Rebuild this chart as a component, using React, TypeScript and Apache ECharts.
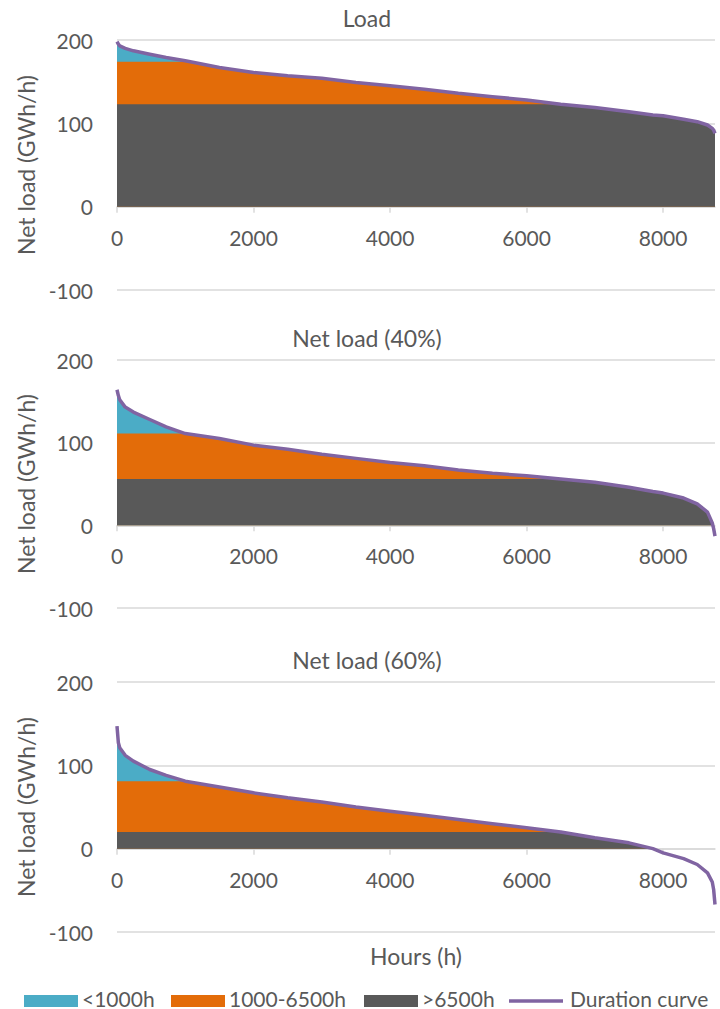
import React, { useEffect, useRef } from "react";
import * as echarts from "echarts";

// Hours of the year (sorted duration)
const hours = [0, 20, 40, 120, 240, 480, 720, 1000, 1500, 2000, 2500, 3000, 3500, 4000, 4500, 5000, 5500, 6000, 6500, 7000, 7500, 7850, 8000, 8300, 8500, 8650, 8720, 8740, 8760];

// Duration curves (GWh/h)
const loadCurve = [198, 195, 193, 190, 187, 183, 179, 175, 167, 161, 157, 154, 149, 145, 141, 136, 132, 128, 123, 119, 114, 110, 109, 105, 102, 98, 94, 92, 88];
const net40Curve = [164, 157, 152, 143, 137, 128, 119, 111, 105, 97, 92, 86, 81, 76, 72, 67, 63, 60, 56, 52, 46, 41, 39, 33, 26, 16, 3, -4, -13];
const net60Curve = [147, 127, 121, 112, 105, 95, 88, 81, 74, 67, 61, 56, 50, 45, 40, 35, 30, 25, 20, 13, 7, 0, -5, -12, -19, -29, -40, -49, -67];

// Levels at 1000 h and 6500 h for each panel
const level1000 = [174, 111, 81];
const level6500 = [123, 56, 20];

const panelTitles = ["Load", "Net load (40%)", "Net load (60%)"];
const seriesNames = ["<1000h", "1000-6500h", ">6500h", "Duration curve"];
const xTicks = [0, 2000, 4000, 6000, 8000];
const yMin = -100;
const yMax = 200;

const curves = [loadCurve, net40Curve, net60Curve];

const FONT = "Lato";
const TXT = "#595959";
const GRIDC = "#d9d9d9";
const COLORS = ["#4BACC6", "#E36C09", "#595959", "#8064A2"];

const gridTops = [40, 360, 682];
const gridHeights = [250, 248, 250];

export default function App() {
  const ref = useRef<HTMLDivElement>(null);
  useEffect(() => {
    if (!ref.current) return;
    const chart = echarts.init(ref.current, undefined, { renderer: "svg" });

    const grids: any[] = [];
    const xAxes: any[] = [];
    const yAxes: any[] = [];
    const series: any[] = [];
    const graphics: any[] = [];

    curves.forEach((curve, i) => {
      // place the x axis on the zero line of the value axis
      const zeroOffset = -gridHeights[i] * (0 - yMin) / (yMax - yMin);
      grids.push({ left: 117, right: 5, top: gridTops[i], height: gridHeights[i] });
      xAxes.push({
        gridIndex: i,
        type: "value",
        position: "bottom",
        offset: zeroOffset,
        min: 0,
        max: 8760,
        interval: 2000,
        axisLine: { onZero: false, lineStyle: { color: GRIDC, width: 1.5 } },
        axisTick: { show: true, length: 6, customValues: xTicks, lineStyle: { color: GRIDC, width: 1.5 } },
        axisLabel: {
          customValues: xTicks,
          fontSize: 21,
          color: TXT,
          fontFamily: FONT,
          margin: 20,
          formatter: (v: number) => String(v),
        },
        splitLine: { show: false },
        ...(i === 2
          ? {
              name: "Hours (h)",
              nameLocation: "middle",
              nameGap: 96,
              nameTextStyle: { fontSize: 23, color: TXT, fontFamily: FONT },
            }
          : {}),
      });
      yAxes.push({
        gridIndex: i,
        type: "value",
        min: yMin,
        max: yMax,
        interval: 100,
        axisLine: { show: false, onZero: false },
        axisTick: { show: false },
        splitLine: { lineStyle: { color: GRIDC, width: 1.5 } },
        axisLabel: { fontSize: 21, color: TXT, fontFamily: FONT, margin: 24 },
        name: "Net load (GWh/h)",
        nameLocation: "middle",
        nameGap: 78,
        nameTextStyle: { fontSize: 23, color: TXT, fontFamily: FONT },
      });
      const blue = hours.map((h, k) => [h, Math.max(0, curve[k])]);
      const orange = hours.map((h, k) => [h, Math.max(0, Math.min(curve[k], level1000[i]))]);
      const grey = hours.map((h, k) => [h, Math.max(0, Math.min(curve[k], level6500[i]))]);
      const line = hours.map((h, k) => [h, curve[k]]);
      [blue, orange, grey].forEach((d, s) => {
        series.push({
          name: seriesNames[s],
          type: "line",
          xAxisIndex: i,
          yAxisIndex: i,
          data: d,
          symbol: "none",
          silent: true,
          lineStyle: { width: 0 },
          areaStyle: { color: COLORS[s], opacity: 1, origin: 0 },
          z: 2 + s,
        });
      });
      series.push({
        name: seriesNames[3],
        type: "line",
        xAxisIndex: i,
        yAxisIndex: i,
        data: line,
        symbol: "none",
        silent: true,
        lineStyle: { width: 3.5, color: COLORS[3] },
        z: 6,
      });
      graphics.push({
        type: "text",
        x: 367,
        y: gridTops[i] - 22,
        style: {
          text: panelTitles[i],
          align: "center",
          verticalAlign: "middle",
          fontSize: 23,
          fontFamily: FONT,
          fill: TXT,
        },
      });
    });

    // Legend (drawn manually)
    const legendY = 998;
    const rectXs = [24, 171, 364];
    rectXs.forEach((x, s) => {
      graphics.push({
        type: "rect",
        shape: { x, y: legendY - 3, width: 54, height: 12 },
        style: { fill: COLORS[s] },
      });
      graphics.push({
        type: "text",
        x: x + 58,
        y: legendY,
        style: { text: seriesNames[s], verticalAlign: "middle", fontSize: 21, fontFamily: FONT, fill: TXT },
      });
    });
    graphics.push({
      type: "line",
      shape: { x1: 509, y1: legendY + 3, x2: 563, y2: legendY + 3 },
      style: { stroke: COLORS[3], lineWidth: 3.5 },
    });
    graphics.push({
      type: "text",
      x: 570,
      y: legendY,
      style: { text: seriesNames[3], verticalAlign: "middle", fontSize: 21, fontFamily: FONT, fill: TXT },
    });

    chart.setOption({
      animation: false,
      backgroundColor: "#ffffff",
      textStyle: { fontFamily: FONT },
      grid: grids,
      xAxis: xAxes,
      yAxis: yAxes,
      series,
      graphic: graphics,
    });
    return () => chart.dispose();
  }, []);
  return (
    <div
      ref={ref}
      style={{ position: "fixed", left: 0, top: 0, width: 720, height: 1009, background: "#fff" }}
    />
  );
}
